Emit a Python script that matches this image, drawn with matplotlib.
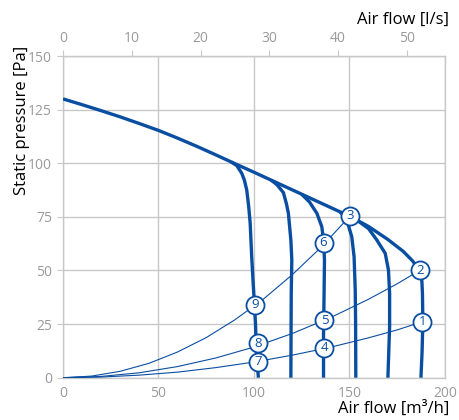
import matplotlib.pyplot as plt

plt.rcParams['font.family'] = ['Open Sans', 'DejaVu Sans']

blue = "#0a4ea2"
grey = "#c8c8c8"
tick_grey = "#9a9a9a"

# fan curves (m3/h, Pa) - top curve runs along the envelope then down at max speed
env_x = [0, 10, 20, 30, 40, 50, 60, 70, 80, 90, 100, 110, 120, 130, 140, 150,
         160, 170, 178, 183, 186.5, 187.9, 188.2, 188.4, 188.0, 187.4]
env_y = [130, 127.3, 124.5, 121.6, 118.5, 115.3, 111.7, 107.9, 103.9, 99.8, 95.8, 91.7, 87.6, 83.5, 79.4, 75.3,
         70.5, 64.5, 59, 54.5, 50.3, 45, 39, 26, 12, 0]

a_x = [88, 91, 93.6, 95, 96.2, 97.2, 98, 98.8, 99.5, 100.2, 100.8, 101.1, 101.6, 102.3]
a_y = [100.6, 98.9, 95.3, 92, 87.5, 80, 72, 56.4, 45, 34.7, 25, 16, 8, 0]

b_x = [109, 112, 115.4, 117, 118, 119.3, 119.8, 119.5, 119.4, 119.3]
b_y = [92.1, 90.0, 86.3, 81, 76.7, 64.2, 54.9, 40, 20, 0]

c_x = [125, 129, 132.9, 135.5, 136.4, 136.9, 136.7, 136.4, 136.4]
c_y = [85.5, 82.0, 76.7, 70.4, 64.2, 55, 40, 20, 0]

d_x = [145, 148.6, 151.2, 152.4, 153.0, 153.2, 153.3]
d_y = [77.4, 73.5, 65.7, 56.4, 41, 25, 0]

e_x = [154, 160, 164.3, 168.7, 170.4, 171.0, 171.0, 170.1]
e_y = [73.4, 69.5, 64.2, 58, 50.2, 39.3, 23.8, 0]

fan_curves = [(env_x, env_y), (a_x, a_y), (b_x, b_y), (c_x, c_y), (d_x, d_y), (e_x, e_y)]

# system curves through the origin
sys1_x = [0, 20, 40, 60, 80, 100, 120, 140, 160, 175, 188.2]
sys1_y = [0, 0.3, 1.2, 2.6, 4.7, 7.3, 10.5, 14.2, 18.6, 22.3, 26.1]
sys2_x = [0, 20, 40, 60, 80, 100, 120, 140, 160, 175, 187]
sys2_y = [0, 0.6, 2.3, 5.2, 9.2, 14.3, 20.6, 28.0, 36.6, 43.8, 50.2]
sys3_x = [0, 15, 30, 45, 60, 75, 90, 105, 120, 135, 150.3]
sys3_y = [0, 0.75, 3.0, 6.7, 12.0, 18.7, 27.0, 36.7, 48.0, 60.7, 75.4]

# numbered operating points
pt_labels = ["1", "2", "3", "4", "5", "6", "7", "8", "9"]
pt_x = [188.2, 187.0, 150.3, 136.9, 136.9, 136.4, 102.3, 102.3, 100.6]
pt_y = [26.1, 50.2, 75.4, 14.0, 26.9, 63.0, 7.5, 16.0, 33.9]

fig = plt.figure(figsize=(4.6, 4.2), dpi=100)
ax = fig.add_axes([63 / 460, 1 - 377.7 / 420, 382 / 460, (377.7 - 56) / 420])

for sx, sy in [(sys1_x, sys1_y), (sys2_x, sys2_y), (sys3_x, sys3_y)]:
    ax.plot(sx, sy, color=blue, lw=0.8, zorder=3)

for fx, fy in fan_curves:
    ax.plot(fx, fy, color=blue, lw=2.4, solid_capstyle="butt", solid_joinstyle="round", zorder=4)

for lab, x, y in zip(pt_labels, pt_x, pt_y):
    ax.plot(x, y, "o", ms=13, mfc="white", mec=blue, mew=1.3, zorder=5)
    ax.text(x, y, lab, color=blue, fontsize=9.5, ha="center", va="center", zorder=6)

ax.set_xlim(0, 200)
ax.set_ylim(0, 150)
ax.set_xticks([0, 50, 100, 150, 200])
ax.set_yticks([0, 25, 50, 75, 100, 125, 150])
ax.grid(True, color=grey, lw=1)
ax.set_axisbelow(True)
for s in ax.spines.values():
    s.set_color(grey)
    s.set_linewidth(1)
ax.tick_params(axis="x", length=0, pad=6, labelsize=10, labelcolor=tick_grey)
ax.tick_params(axis="y", length=4, color=grey, pad=4, labelsize=10, labelcolor=tick_grey)

top = ax.secondary_xaxis("top", functions=(lambda m: m / 3.6, lambda l: l * 3.6))
top.set_xticks([0, 10, 20, 30, 40, 50])
top.tick_params(length=4, color=grey, pad=3, labelsize=10, labelcolor=tick_grey)
top.spines["top"].set_color(grey)

fig.text(449 / 460, 1 - 20 / 420, "Air flow [l/s]", ha="right", va="center", fontsize=12)
fig.text(449 / 460, 1 - 409 / 420, "Air flow [m³/h]", ha="right", va="center", fontsize=12)
fig.text(22 / 460, 1 - 120 / 420, "Static pressure [Pa]", rotation=90, ha="center", va="center", fontsize=12)

fig.savefig("out.png", dpi=100)
